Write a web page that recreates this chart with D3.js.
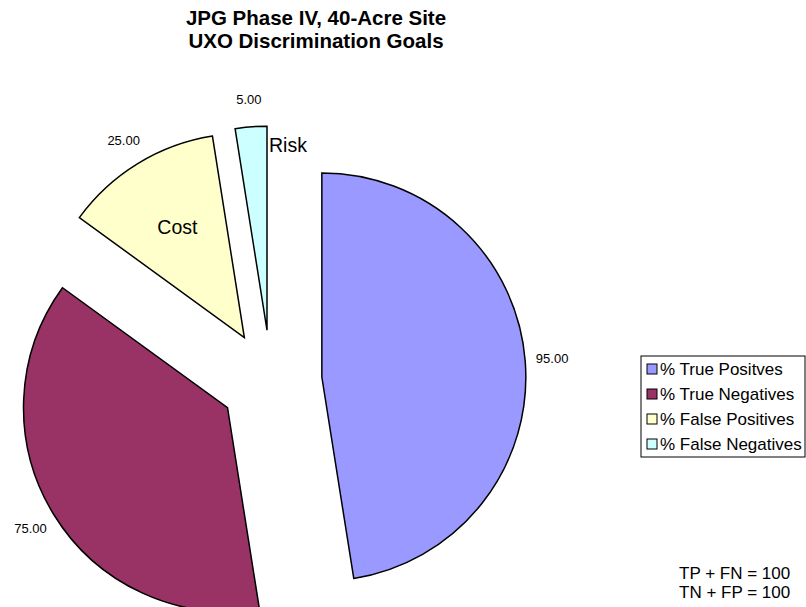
<!DOCTYPE html>
<html>
<head>
<meta charset="utf-8">
<script src="https://cdn.jsdelivr.net/npm/d3@7"></script>
<style>
  body { margin: 0; background: #fff; }
  text { font-family: Arial, "Liberation Sans", sans-serif; }
</style>
</head>
<body>
<div id="chart"></div>
<script>
// slice data (total = 200)
const categories = ['% True Positves', '% True Negatives', '% False Positives', '% False Negatives'];
const values = [95, 75, 25, 5];
const colors = ['#9999FF', '#993366', '#FFFFCC', '#CCFFFF'];
const titleLines = ['JPG Phase IV, 40-Acre Site', 'UXO Discrimination Goals'];
const noteLines = ['TP + FN = 100', 'TN + FP = 100'];

const width = 806, height = 607;
const cx = 271, cy = 381;
const radius = 204;
const explode = 51;

const svg = d3.select('#chart').append('svg')
    .attr('width', width)
    .attr('height', height);

// title
svg.append('text')
    .attr('x', 316)
    .attr('y', 25)
    .attr('text-anchor', 'middle')
    .attr('font-size', 20.5)
    .attr('font-weight', 'bold')
    .selectAll('tspan')
    .data(titleLines)
    .join('tspan')
    .attr('x', 316)
    .attr('dy', (d, i) => i === 0 ? 0 : 23)
    .text(d => d);

const pie = d3.pie().sort(null).value(d => d)
    .startAngle(0).endAngle(2 * Math.PI);
const arcs = pie(values);

const arc = d3.arc().innerRadius(0).outerRadius(radius);
const labelArc = d3.arc().innerRadius(radius + 27).outerRadius(radius + 27);

// push every slice out along its bisector
const offset = d => {
  const a = (d.startAngle + d.endAngle) / 2;
  return [Math.sin(a) * explode, -Math.cos(a) * explode];
};

const slices = svg.append('g')
    .attr('transform', `translate(${cx},${cy})`)
    .selectAll('g')
    .data(arcs)
    .join('g')
    .attr('transform', d => `translate(${offset(d)})`);

slices.append('path')
    .attr('d', arc)
    .attr('fill', (d, i) => colors[i])
    .attr('stroke', '#000')
    .attr('stroke-width', 1.5)
    .attr('stroke-linejoin', 'miter');

slices.append('text')
    .attr('transform', d => `translate(${labelArc.centroid(d)})`)
    .attr('text-anchor', 'middle')
    .attr('dy', '0.35em')
    .attr('font-size', 13)
    .attr('fill', '#000')
    .text(d => d3.format('.2f')(d.data));

// annotations on the cost / risk slices
const fp = arcs[2], fn = arcs[3];
const fpMid = (fp.startAngle + fp.endAngle) / 2;
const fpOff = offset(fp);
svg.append('text')
    .attr('x', cx + fpOff[0] + Math.sin(fpMid) * radius * 0.6 - 3)
    .attr('y', cy + fpOff[1] - Math.cos(fpMid) * radius * 0.6 - 6)
    .attr('text-anchor', 'middle')
    .attr('dy', '0.35em')
    .attr('font-size', 19.5)
    .text('Cost');

const fnOff = offset(fn);
svg.append('text')
    .attr('x', cx + fnOff[0] + 2)
    .attr('y', cy + fnOff[1] - radius + 26)
    .attr('font-size', 19.5)
    .text('Risk');

// legend
const legend = svg.append('g').attr('transform', 'translate(641,356)');
legend.append('rect')
    .attr('width', 164)
    .attr('height', 101)
    .attr('fill', '#fff')
    .attr('stroke', '#000')
    .attr('stroke-width', 1);

const rows = legend.selectAll('g.row')
    .data(categories)
    .join('g')
    .attr('class', 'row')
    .attr('transform', (d, i) => `translate(6,${13 + i * 25})`);

rows.append('rect')
    .attr('x', 0)
    .attr('y', -5)
    .attr('width', 10)
    .attr('height', 10)
    .attr('fill', (d, i) => colors[i])
    .attr('stroke', '#000')
    .attr('stroke-width', 1);

rows.append('text')
    .attr('x', 13)
    .attr('dy', '0.35em')
    .attr('font-size', 17)
    .text(d => d);

// note in the lower right corner
svg.append('text')
    .attr('font-size', 17)
    .selectAll('tspan')
    .data(noteLines)
    .join('tspan')
    .attr('x', 679)
    .attr('y', (d, i) => 579 + i * 19)
    .text(d => d);
</script>
</body>
</html>
